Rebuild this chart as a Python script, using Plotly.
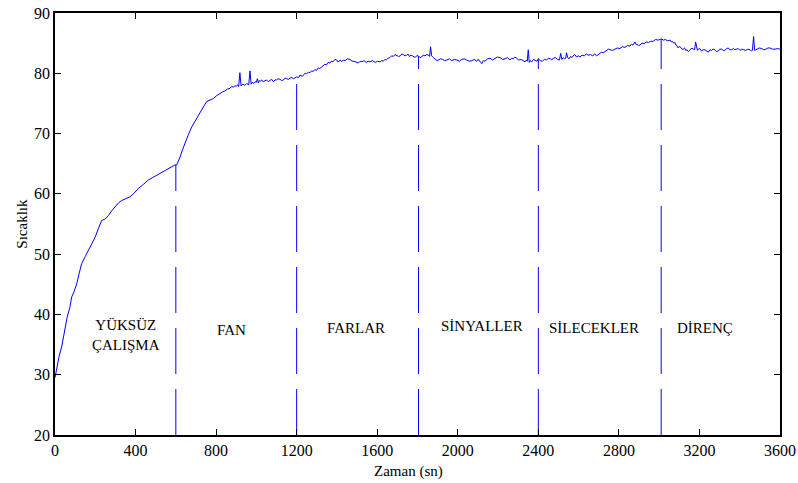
import numpy as np
import plotly.graph_objects as go

# Temperature log: time (s) and temperature, one pair per reading
time_s = [
    # no-load warm-up
    0, 10, 20, 33, 45, 60, 74, 83, 95, 108, 120, 132, 150, 166, 182, 199, 215, 232, 248, 265,
    282, 298, 315, 331, 350, 372, 392, 414, 440, 463, 485, 507, 530, 552, 575, 596,
    # fan
    604, 612, 621, 633, 645, 662, 679, 692, 704, 716, 728, 740, 753, 770, 786, 803, 819, 832,
    845, 857, 869, 877, 885, 893, 902, 908, 912, 918, 924, 932, 943, 952, 962, 968, 974, 980,
    985, 993, 1000, 1005, 1010, 1015, 1020, 1027, 1034, 1042, 1050, 1059, 1068, 1076, 1085,
    1092, 1100, 1108, 1117, 1126, 1135, 1142, 1150, 1158, 1167, 1176, 1185, 1192, 1200,
    # headlights
    1210, 1216, 1222, 1228, 1233, 1242, 1250, 1258, 1266, 1274, 1282, 1290, 1299, 1307, 1315,
    1323, 1332, 1340, 1348, 1356, 1365, 1372, 1380, 1390, 1399, 1404, 1410, 1417, 1423, 1432,
    1440, 1452, 1465, 1475, 1485, 1495, 1506, 1515, 1525, 1535, 1545, 1555, 1564, 1577, 1590,
    1602, 1614, 1622, 1630, 1638, 1645, 1654, 1663, 1672, 1680, 1688, 1697, 1706, 1715, 1722,
    1730, 1738, 1746, 1753, 1760, 1768, 1775, 1783, 1790, 1797,
    # signals
    1804, 1812, 1820, 1828, 1837, 1846, 1855, 1860, 1865, 1870, 1879, 1885, 1891, 1897, 1903,
    1914, 1925, 1935, 1945, 1958, 1970, 1983, 1995, 2008, 2020, 2032, 2044, 2057, 2070, 2082,
    2094, 2100, 2105, 2112, 2119, 2127, 2135, 2148, 2160, 2172, 2185, 2197, 2210, 2222, 2235,
    2247, 2259, 2267, 2275, 2283, 2292, 2303, 2315, 2325, 2334, 2340, 2345, 2350, 2355, 2361,
    2367, 2376, 2385, 2393,
    # wipers
    2400, 2410, 2420, 2430, 2441, 2450, 2460, 2467, 2474, 2485, 2495, 2505, 2511, 2517, 2523,
    2530, 2536, 2540, 2546, 2553, 2560, 2567, 2573, 2581, 2590, 2598, 2607, 2617, 2628, 2638,
    2648, 2659, 2670, 2680, 2690, 2697, 2705, 2713, 2722, 2731, 2740, 2748, 2756, 2768, 2780,
    2792, 2805, 2817, 2830, 2842, 2855, 2862, 2870, 2876, 2880, 2885, 2890, 2897, 2905, 2915,
    2925, 2935, 2946, 2958, 2970, 2982, 2995, 3003,
    # resistor load
    3012, 3021, 3030, 3042, 3054, 3060, 3066, 3072, 3078, 3083, 3088, 3092, 3095, 3101, 3108,
    3114, 3120, 3126, 3132, 3138, 3145, 3151, 3157, 3163, 3169, 3176, 3181, 3186, 3190, 3194,
    3202, 3210, 3218, 3227, 3235, 3244, 3252, 3260, 3268, 3277, 3285, 3293, 3301, 3310, 3318,
    3327, 3335, 3343, 3351, 3360, 3368, 3376, 3384, 3393, 3401, 3410, 3420, 3430, 3440, 3451,
    3457, 3463, 3469, 3474, 3480, 3485, 3497, 3509, 3520, 3530, 3540, 3550, 3562, 3575, 3588,
    3600,
]
temperature = [
    # no-load warm-up
    29.5, 31.3, 33.0, 34.6, 37.0, 39.5, 41.2, 42.9, 43.8, 45.1, 46.8, 48.4, 49.6, 50.6, 51.6,
    52.8, 54.2, 55.6, 55.8, 56.4, 57.2, 57.8, 58.5, 58.9, 59.2, 59.5, 60.1, 60.9, 61.6, 62.3,
    62.7, 63.1, 63.6, 63.9, 64.3, 64.8,
    # fan
    64.8, 65.3, 66.1, 67.3, 68.4, 69.8, 71.1, 71.9, 72.5, 73.2, 73.9, 74.6, 75.3, 75.5, 75.8,
    76.3, 76.7, 76.9, 77.1, 77.4, 77.5, 77.8, 77.7, 77.9, 77.9, 78.1, 77.8, 80.1, 77.9, 78.2,
    78.0, 78.3, 78.1, 80.4, 78.2, 78.5, 78.3, 78.6, 78.5, 79.1, 78.4, 78.8, 78.7, 78.9, 78.6,
    78.8, 78.9, 78.6, 78.8, 79.0, 78.6, 78.9, 78.9, 79.1, 79.0, 78.8, 78.9, 79.2, 79.1, 79.0,
    79.2, 79.3, 79.1, 79.3, 79.4,
    # headlights
    79.3, 79.7, 79.6, 79.5, 79.7, 80.0, 79.9, 80.2, 80.1, 80.4, 80.3, 80.6, 80.5, 80.9, 80.8,
    81.0, 81.2, 81.5, 81.4, 81.8, 81.7, 82.0, 81.9, 82.3, 82.2, 81.9, 82.0, 82.2, 81.9, 82.2,
    82.1, 82.4, 82.3, 82.0, 82.0, 81.8, 81.7, 82.0, 81.9, 82.1, 81.8, 82.0, 81.9, 82.1, 81.8,
    82.0, 81.9, 82.1, 82.0, 82.3, 82.2, 82.5, 82.6, 82.9, 82.8, 83.1, 83.0, 82.8, 82.9, 83.2,
    83.1, 82.9, 83.0, 83.2, 82.8, 83.0, 82.9, 82.7, 82.7, 82.9,
    # signals
    82.9, 82.6, 82.7, 83.0, 82.9, 83.1, 83.0, 82.8, 84.4, 82.9, 82.6, 82.4, 82.3, 82.1, 82.2,
    82.4, 82.3, 82.1, 82.2, 82.4, 82.1, 82.3, 82.2, 82.0, 82.3, 82.4, 82.2, 82.0, 82.1, 82.3,
    82.0, 82.3, 82.2, 81.8, 81.6, 82.1, 82.0, 82.4, 82.5, 82.2, 82.4, 82.7, 82.6, 82.3, 82.4,
    82.6, 82.2, 82.5, 82.4, 82.7, 82.5, 82.2, 82.3, 82.1, 81.9, 82.2, 82.0, 83.9, 81.8, 82.1,
    81.9, 82.3, 82.2, 82.0,
    # wipers
    82.4, 82.1, 82.0, 82.3, 82.2, 82.5, 82.4, 82.2, 82.5, 82.6, 82.3, 82.2, 83.3, 82.3, 82.6,
    82.4, 82.5, 83.4, 82.6, 82.4, 82.8, 82.6, 82.9, 83.1, 82.7, 82.9, 82.7, 83.0, 82.9, 83.2,
    83.0, 83.1, 82.9, 83.2, 82.9, 83.1, 83.2, 83.5, 83.4, 83.6, 83.7, 84.0, 83.9, 83.8, 84.0,
    84.2, 84.1, 84.4, 84.3, 84.6, 84.5, 84.8, 84.7, 84.9, 85.2, 84.8, 84.8, 84.6, 84.7, 85.0,
    84.9, 85.2, 85.1, 85.3, 85.3, 85.6, 85.5, 85.6,
    # resistor load
    85.7, 85.5, 85.6, 85.4, 85.5, 85.2, 85.3, 85.0, 85.1, 84.7, 84.6, 84.3, 84.2, 84.5, 84.3,
    84.0, 84.0, 84.2, 83.8, 83.9, 83.6, 83.8, 83.9, 84.2, 84.0, 83.9, 85.2, 84.0, 83.8, 84.0,
    84.1, 83.7, 83.9, 83.9, 83.7, 83.5, 83.9, 83.8, 84.0, 83.9, 83.6, 83.7, 84.0, 84.0, 83.8,
    83.8, 84.1, 84.2, 83.9, 83.9, 84.1, 83.9, 84.0, 84.1, 83.8, 84.0, 83.9, 83.8, 84.0, 83.9,
    83.7, 83.8, 86.1, 83.8, 83.9, 84.0, 84.2, 84.1, 83.9, 84.0, 84.2, 84.2, 84.0, 84.0, 84.1,
    84.0,
]
assert len(time_s) == len(temperature)

# Load switch-over times and the stage names
stage_starts = [600, 1200, 1805, 2400, 3010]
stage_names = ["YÜKSÜZ<br>ÇALIŞMA", "FAN", "FARLAR", "SİNYALLER", "SİLECEKLER", "DİRENÇ"]

x_ticks = list(range(0, 3601, 400))
y_ticks = list(range(20, 91, 10))

BLUE = "#0000FF"
FONT = "'Times New Roman', 'Liberation Serif', 'DejaVu Serif', serif"

fig = go.Figure()

fig.add_trace(go.Scatter(
    x=time_s, y=temperature, mode="lines",
    line=dict(color=BLUE, width=1), showlegend=False, hoverinfo="skip",
))

# dashed markers rising from the bottom axis up to the curve at each switch
y_floor = y_ticks[0]
tops = np.interp(stage_starts, time_s, temperature)
for ts, top in zip(stage_starts, tops):
    fig.add_trace(go.Scatter(
        x=[ts, ts], y=[y_floor, top], mode="lines",
        line=dict(color=BLUE, width=1, dash="46px,15px"),
        showlegend=False, hoverinfo="skip",
    ))

# stage name placement (data coordinates)
label_x = [355, 874, 1497, 2120, 2676, 3230]
label_y = [36.6, 37.5, 37.7, 38.0, 37.7, 37.7]
for name, lx, ly in zip(stage_names, label_x, label_y):
    fig.add_annotation(
        x=lx, y=ly, xref="x", yref="y", text=name, showarrow=False,
        font=dict(family=FONT, size=15, color="black"),
    )

fig.add_annotation(
    x=0.487, y=-0.062, xref="paper", yref="paper", xanchor="center", yanchor="top",
    text="Zaman (sn)", showarrow=False,
    font=dict(family=FONT, size=15, color="black"),
)
fig.add_annotation(
    x=-0.046, y=0.5, xref="paper", yref="paper", xanchor="center", yanchor="middle",
    textangle=-90, text="Sıcaklık", showarrow=False,
    font=dict(family=FONT, size=15, color="black"),
)

axis_common = dict(
    showgrid=False, zeroline=False, showline=True, linecolor="black", linewidth=1.5,
    mirror="ticks", ticks="inside", ticklen=6, tickwidth=1, tickcolor="black",
    tickfont=dict(family=FONT, size=16, color="black"), automargin=False,
)

fig.update_xaxes(range=[0, 3600], tickmode="array", tickvals=x_ticks, **axis_common)
fig.update_yaxes(range=[20, 90], tickmode="array", tickvals=y_ticks, **axis_common)

fig.update_layout(
    width=798, height=483,
    margin=dict(l=55, r=18, t=13, b=48),
    plot_bgcolor="white", paper_bgcolor="white",
    font=dict(family=FONT, color="black"),
)

fig.write_html("out.html")
